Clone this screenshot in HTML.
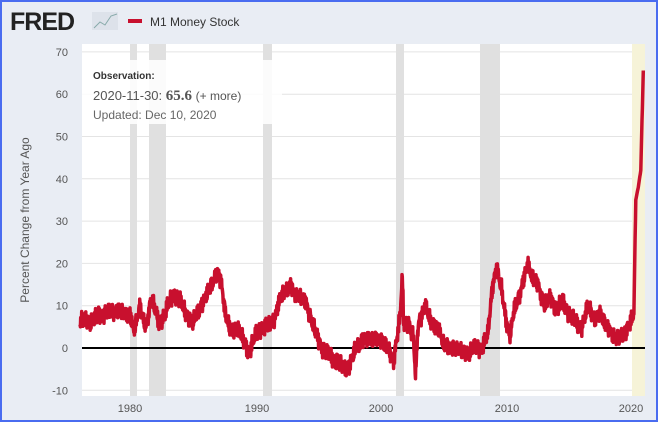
<!DOCTYPE html>
<html><head><meta charset="utf-8"><style>
html,body{margin:0;padding:0;}
body{width:658px;height:422px;overflow:hidden;font-family:"Liberation Sans",sans-serif;}
#wrap{position:absolute;left:0;top:0;width:654px;height:418px;border:2px solid #4a6cf0;background:#e9edf4;}
</style></head><body>
<div id="wrap"></div>
<svg width="658" height="422" style="position:absolute;left:0;top:0" xmlns="http://www.w3.org/2000/svg" font-family="Liberation Sans, sans-serif">
<rect x="82" y="44" width="563" height="352" fill="#fff"/>
<g id="grid" stroke="#e4e4e4" stroke-width="1"></g>
<g fill="#e0e0e0">
<rect x="130" y="44" width="7" height="352"/>
<rect x="149" y="44" width="17" height="352"/>
<rect x="263" y="44" width="9" height="352"/>
<rect x="396" y="44" width="8" height="352"/>
<rect x="480" y="44" width="20" height="352"/>
<rect x="632" y="44" width="13" height="352" fill="#f6f3d8"/>
</g>
<rect x="82" y="60" width="200" height="64" fill="#fff" opacity="0.85"/>
<line x1="82" y1="348" x2="645" y2="348" stroke="#000" stroke-width="2"/>
<path id="ser" fill="none" stroke="#c8102e" stroke-width="3.5" stroke-linejoin="round"/>
<g font-size="11" fill="#555" text-anchor="end" id="yl"></g>
<g font-size="11" fill="#555" text-anchor="middle">
<text x="130" y="412">1980</text><text x="257" y="412">1990</text><text x="381" y="412">2000</text><text x="507" y="412">2010</text><text x="631" y="412">2020</text>
</g>
<text transform="translate(29,220) rotate(-90)" font-size="12" fill="#555" text-anchor="middle">Percent Change from Year Ago</text>
<text x="93" y="79" font-size="10" font-weight="bold" fill="#333">Observation:</text>
<text x="93" y="100" font-size="13" fill="#555">2020-11-30: <tspan font-weight="bold" font-family="Liberation Serif, serif" font-size="15">65.6</tspan> <tspan font-size="12">(+ more)</tspan></text>
<text x="93" y="119" font-size="12" fill="#666">Updated: Dec 10, 2020</text>
<text x="10" y="30" font-size="25" font-weight="bold" fill="#222" letter-spacing="-1">FRED</text>
<rect x="92" y="12" width="26" height="18" fill="#dde2ea"/>
<polyline points="94,28 100,22 105,25 111,16 117,14" fill="none" stroke="#8aa" stroke-width="1"/>
<rect x="128" y="19" width="14" height="4" fill="#c8102e"/>
<text x="150" y="26" font-size="12" fill="#333">M1 Money Stock</text>
</svg>
<script>
var X=function(y){return 130+(y-1980)*12.55},Y=function(v){return 348-4.23*v};
var g=document.getElementById('grid'),yl=document.getElementById('yl'),s='';
for(var v=-10;v<=70;v+=10){s+='<line x1="82" x2="645" y1="'+Y(v)+'" y2="'+Y(v)+'"/>';yl.innerHTML+='<text x="68" y="'+(Y(v)+4)+'">'+v+'</text>';}
g.innerHTML=s;
var d=[1976,6,1976.5,7,1977,6,1977.5,8,1978,8,1979,9,1979.5,8,1980,8,1980.3,4,1980.8,10,1981,7,1981.3,5,1981.7,12,1982,9,1982.3,6,1982.8,8,1983,10,1983.5,13,1984,11,1984.5,8,1985,6,1985.5,9,1986,12,1986.5,15,1987,18,1987.3,15,1987.6,8,1988,4,1988.5,5,1989,2,1989.5,-1,1990,3,1990.5,5,1991,5,1991.5,7,1992,12,1992.8,15,1993,13,1994,11,1994.5,6,1995,2,1995.5,-1,1996,-2,1996.5,-3,1997,-5,1997.5,-4,1998,0,1998.5,2,1999,2,2000,2,2000.5,0,2001,-3,2001.5,7,2001.7,17,2001.8,6,2002.2,6,2002.6,2,2002.75,-7,2002.9,3,2003,6,2003.5,10,2004,6,2004.5,5,2005,1,2005.5,0,2006,0,2006.5,-1,2007,-1,2007.5,0,2008,0,2008.5,3,2008.9,15,2009.2,19,2009.6,14,2010,6,2010.3,3,2010.6,9,2011,12,2011.7,20,2012,17,2012.5,15,2013,10,2013.5,12,2014,9,2014.5,11,2015,8,2015.5,6,2016,5,2016.5,10,2017,7,2017.5,8,2018,5,2018.5,3,2019,2,2019.5,4,2020,7,2020.15,8,2020.3,35,2020.5,38,2020.7,42,2020.9,65.6];
var p='';
for(var i=0;i<d.length-2;i+=2){var y0=d[i],v0=d[i+1],y1=d[i+2],v1=d[i+3];var n=Math.max(1,Math.round((y1-y0)*40));
for(var k=0;k<n;k++){var t=k/n,yy=y0+(y1-y0)*t,vv=v0+(v1-v0)*t;if(y1<2020.2)vv+=1.0*Math.sin(yy*171.3)+0.8*Math.sin(yy*97.7+1)+0.6*Math.sin(yy*23.1);p+=(p?'L':'M')+X(yy).toFixed(1)+','+Y(vv).toFixed(1);}}
p+='L'+X(2020.9).toFixed(1)+','+Y(65.6).toFixed(1);
document.getElementById('ser').setAttribute('d',p);
</script>
</body></html>
